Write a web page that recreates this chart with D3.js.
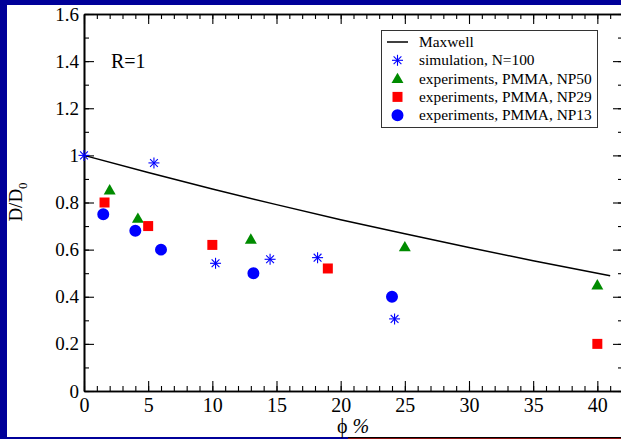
<!DOCTYPE html>
<html>
<head>
<meta charset="utf-8">
<script src="https://cdn.jsdelivr.net/npm/d3@7/dist/d3.min.js"></script>
<style>
  html, body { margin: 0; padding: 0; background: #ffffff; }
  svg { display: block; }
  text { font-family: "Liberation Serif", "Times New Roman", Times, serif; fill: #000; }
</style>
</head>
<body>
<svg id="chart" width="621" height="439"></svg>
<script>
// Volume fraction (%) and normalized diffusion coefficient D/D0 per series
const maxwellPhi = [0, 5, 10, 15, 20, 25, 30, 35, 40, 41];
const maxwellD   = [1.0, 0.927, 0.857, 0.791, 0.727, 0.667, 0.609, 0.553, 0.5, 0.489];

const simPhi = [0, 5.45, 10.25, 14.5, 18.2, 24.2];
const simD   = [1.0, 0.968, 0.542, 0.559, 0.566, 0.306];

const np50Phi = [2.0, 4.2, 13.0, 25.0, 40.0];
const np50D   = [0.853, 0.733, 0.644, 0.612, 0.45];

const np29Phi = [1.6, 5.0, 10.0, 19.0, 40.0];
const np29D   = [0.8, 0.7, 0.62, 0.52, 0.2];

const np13Phi = [1.5, 4.0, 6.0, 13.2, 24.0];
const np13D   = [0.75, 0.68, 0.6, 0.5, 0.4];

const xTickValues = [0, 5, 10, 15, 20, 25, 30, 35, 40];
const xTickLabels = ["0", "5", "10", "15", "20", "25", "30", "35", "40"];
const yTickValues = [0, 0.2, 0.4, 0.6, 0.8, 1.0, 1.2, 1.4, 1.6];
const yTickLabels = ["0", "0.2", "0.4", "0.6", "0.8", "1", "1.2", "1.4", "1.6"];

const legendLabels = ["Maxwell", "simulation, N=100", "experiments, PMMA, NP50",
                      "experiments, PMMA, NP29", "experiments, PMMA, NP13"];

const SERIF = "'Liberation Serif', 'Times New Roman', Times, serif";
const svg = d3.select("#chart");
const W = 621, H = 439;

// slide frame
svg.append("rect").attr("x", 0).attr("y", 0).attr("width", W).attr("height", H).attr("fill", "#fff");
svg.append("rect").attr("x", 0).attr("y", 0).attr("width", W).attr("height", 5).attr("fill", "#000099");
svg.append("rect").attr("x", 0).attr("y", 0).attr("width", 7).attr("height", H).attr("fill", "#000099");
svg.append("rect").attr("x", 0).attr("y", 437).attr("width", 348).attr("height", 2).attr("fill", "#000099");
svg.append("rect").attr("x", 348).attr("y", 437).attr("width", W - 348).attr("height", 1).attr("fill", "#000");
svg.append("rect").attr("x", 348).attr("y", 438).attr("width", W - 348).attr("height", 1).attr("fill", "#8a1010");

const x = d3.scaleLinear().domain([0, 42]).range([84, 623]);
const y = d3.scaleLinear().domain([0, 1.6]).range([391, 14]);

const xMinor = d3.range(0, 43, 1);
const yMinor = d3.range(0, 1.61, 0.1);

function styleAxis(g) {
  g.attr("font-family", SERIF);
  g.select(".domain").attr("stroke", "#000").attr("stroke-width", 1.6);
  g.selectAll(".tick line").attr("stroke", "#000").attr("stroke-width", 1.1);
}

// minor ticks on all four sides
const minorDefs = [
  [d3.axisBottom(x), xMinor, 391, 0],
  [d3.axisTop(x), xMinor, 14, 0],
  [d3.axisLeft(y), yMinor, 0, 84],
  [d3.axisRight(y), yMinor, 0, 623]
];
minorDefs.forEach(([ax, vals, ty, tx]) => {
  const g = svg.append("g").attr("transform", `translate(${tx},${ty})`)
    .call(ax.tickValues(vals).tickSizeInner(-5).tickSizeOuter(0).tickFormat(""));
  styleAxis(g);
});

// major ticks with labels
const gx = svg.append("g").attr("transform", "translate(0,391)")
  .call(d3.axisBottom(x).tickValues(xTickValues).tickSizeInner(-10).tickSizeOuter(0)
    .tickPadding(7).tickFormat((d, i) => xTickLabels[i]));
styleAxis(gx);
gx.selectAll("text").attr("font-size", 20).attr("font-family", SERIF).attr("fill", "#000");

const gxt = svg.append("g").attr("transform", "translate(0,14)")
  .call(d3.axisTop(x).tickValues(xTickValues).tickSizeInner(-10).tickSizeOuter(0).tickFormat(""));
styleAxis(gxt);

const gy = svg.append("g").attr("transform", "translate(84,0)")
  .call(d3.axisLeft(y).tickValues(yTickValues).tickSizeInner(-10).tickSizeOuter(0)
    .tickPadding(5).tickFormat((d, i) => yTickLabels[i]));
styleAxis(gy);
gy.selectAll("text").attr("font-size", 19).attr("font-family", SERIF).attr("fill", "#000");

const gyr = svg.append("g").attr("transform", "translate(623,0)")
  .call(d3.axisRight(y).tickValues(yTickValues).tickSizeInner(-10).tickSizeOuter(0).tickFormat(""));
styleAxis(gyr);

// axis titles
const xt = svg.append("text").attr("x", 353).attr("y", 433).attr("text-anchor", "middle")
  .attr("font-size", 20);
xt.append("tspan").text("ϕ ");
xt.append("tspan").attr("font-style", "italic").text("%");

const yt = svg.append("text").attr("transform", "translate(22,202) rotate(-90)")
  .attr("text-anchor", "middle").attr("font-size", 19);
yt.append("tspan").text("D/D");
yt.append("tspan").attr("font-size", 13).attr("dy", 5).text("0");

svg.append("text").attr("x", 111).attr("y", 68).attr("font-size", 20).text("R=1");

// Maxwell curve
const line = d3.line().x(d => x(d[0])).y(d => y(d[1]));
svg.append("path").datum(maxwellPhi.map((p, i) => [p, maxwellD[i]]))
  .attr("d", line).attr("fill", "none").attr("stroke", "#000").attr("stroke-width", 1.5);

const BLUE = "#0000ff", GREEN = "#008b00", RED = "#ff0000";

function star(g, cx, cy, r) {
  const s = g.append("g").attr("transform", `translate(${cx},${cy})`)
    .attr("stroke", BLUE).attr("stroke-width", 1.1);
  [0, 45, 90, 135].forEach(a => {
    const rad = a * Math.PI / 180;
    s.append("line").attr("x1", -r * Math.cos(rad)).attr("y1", -r * Math.sin(rad))
      .attr("x2", r * Math.cos(rad)).attr("y2", r * Math.sin(rad));
  });
}
const sym = {
  triangle: d3.symbol().type(d3.symbolTriangle).size(62),
  square: d3.symbol().type(d3.symbolSquare).size(100),
  circle: d3.symbol().type(d3.symbolCircle).size(113)
};

const marks = svg.append("g");
simPhi.forEach((p, i) => star(marks, x(p), y(simD[i]), 5.5));
np50Phi.forEach((p, i) => marks.append("path").attr("d", sym.triangle())
  .attr("transform", `translate(${x(p)},${y(np50D[i]) + 1})`).attr("fill", GREEN));
np29Phi.forEach((p, i) => marks.append("path").attr("d", sym.square())
  .attr("transform", `translate(${x(p)},${y(np29D[i])})`).attr("fill", RED));
np13Phi.forEach((p, i) => marks.append("path").attr("d", sym.circle())
  .attr("transform", `translate(${x(p)},${y(np13D[i])})`).attr("fill", BLUE));

// legend
const lg = svg.append("g");
lg.append("rect").attr("x", 381.5).attr("y", 30.5).attr("width", 216).attr("height", 97)
  .attr("fill", "#fff").attr("stroke", "#333").attr("stroke-width", 1);
const ly = i => 42 + i * 18.3;
lg.append("line").attr("x1", 387).attr("x2", 408).attr("y1", ly(0)).attr("y2", ly(0))
  .attr("stroke", "#000").attr("stroke-width", 1.5);
star(lg, 397.5, ly(1), 5.5);
lg.append("path").attr("d", sym.triangle()).attr("transform", `translate(397.5,${ly(2) + 1})`).attr("fill", GREEN);
lg.append("path").attr("d", sym.square()).attr("transform", `translate(397.5,${ly(3)})`).attr("fill", RED);
lg.append("path").attr("d", sym.circle()).attr("transform", `translate(397.5,${ly(4)})`).attr("fill", BLUE);
legendLabels.forEach((t, i) => {
  lg.append("text").attr("x", 419).attr("y", ly(i)).attr("dy", "0.33em")
    .attr("font-size", 15.4).text(t);
});
</script>
</body>
</html>
